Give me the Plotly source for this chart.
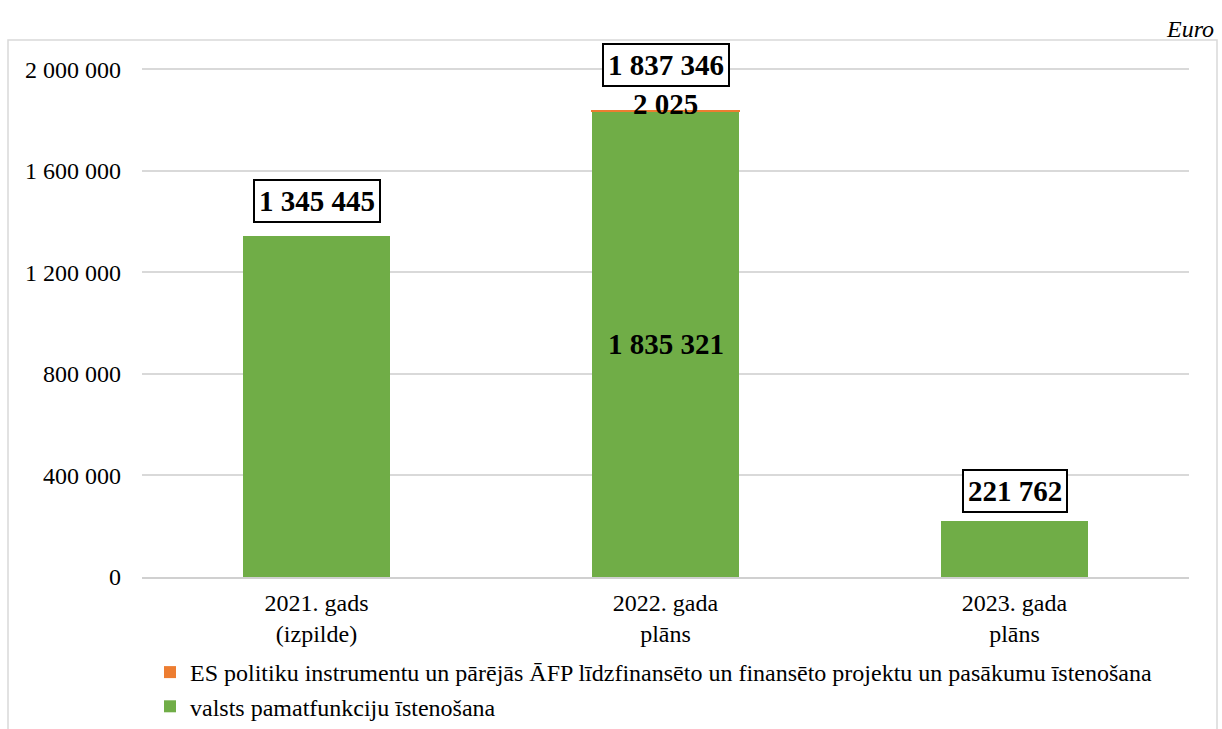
import plotly.graph_objects as go

categories = ["2021. gads<br>(izpilde)", "2022. gada<br>plāns", "2023. gada<br>plāns"]
green_name = "valsts pamatfunkciju īstenošana"
orange_name = "ES politiku instrumentu un pārējās ĀFP līdzfinansēto un finansēto projektu un pasākumu īstenošana"
green_vals = [1345445, 1835321, 221762]
orange_vals = [0, 2025, 0]
totals = [g + o for g, o in zip(green_vals, orange_vals)]
tick_vals = [0, 400000, 800000, 1200000, 1600000, 2000000]
tick_text = ["0", "400 000", "800 000", "1 200 000", "1 600 000", "2 000 000"]


def fmt(v):
    return f"{v:,}".replace(",", " ")


FONT = "Liberation Serif, Times New Roman, serif"
L, R, T, B = 142, 33, 44, 152
PW, PH = 1222 - L - R, 729 - T - B

fig = go.Figure()
fig.add_trace(go.Bar(
    x=categories, y=green_vals, name=green_name,
    marker=dict(color="#70ad47", line=dict(width=0)),
    width=0.42,
))
fig.add_trace(go.Bar(
    x=categories, y=orange_vals, name=orange_name,
    marker=dict(
        color="#ed7d31",
        line=dict(width=1.5, color=["rgba(0,0,0,0)" if v == 0 else "#ed7d31" for v in orange_vals]),
    ),
    width=0.42,
))

# total labels in boxes
box_shifts = [35, 46, 30]
for c, t, s in zip(categories, totals, box_shifts):
    fig.add_annotation(
        x=c, y=t, yshift=s, text=f"<b>{fmt(t)}</b>", showarrow=False,
        font=dict(family=FONT, size=29, color="black"),
        bordercolor="black", borderwidth=2, bgcolor="white", borderpad=4,
    )

# inner segment labels for 2022
fig.add_annotation(
    x=categories[1], y=green_vals[1] / 2, text=f"<b>{fmt(green_vals[1])}</b>",
    showarrow=False, font=dict(family=FONT, size=29, color="black"),
)
fig.add_annotation(
    x=categories[1], y=totals[1], yshift=7, text=f"<b>{fmt(orange_vals[1])}</b>",
    showarrow=False, font=dict(family=FONT, size=29, color="black"),
)

# Euro unit label
fig.add_annotation(
    xref="paper", yref="paper", x=(1216 - L) / PW, y=(577 - 29) / PH,
    xanchor="right", yanchor="middle",
    text="<i>Euro</i>", showarrow=False,
    font=dict(family=FONT, size=24, color="black"),
)

# outer chart border
fig.add_shape(
    type="rect", xref="paper", yref="paper",
    x0=(8 - L) / PW, x1=(1217 - L) / PW,
    y0=(577 - 760) / PH, y1=(577 - 40) / PH,
    line=dict(color="#d9d9d9", width=1.5), fillcolor="rgba(0,0,0,0)", layer="below",
)

fig.update_layout(
    width=1222, height=729,
    margin=dict(l=L, r=R, t=T, b=B, autoexpand=False),
    barmode="stack",
    paper_bgcolor="white", plot_bgcolor="white",
    font=dict(family=FONT, size=24, color="black"),
    showlegend=True,
    legend=dict(
        orientation="v", traceorder="reversed",
        x=(150 - L) / PW, xanchor="left", y=(577 - 650) / PH, yanchor="top",
        font=dict(family=FONT, size=24, color="black"),
        itemwidth=30, tracegroupgap=0, bgcolor="rgba(0,0,0,0)",
    ),
    xaxis=dict(
        showgrid=False, showline=True, linecolor="#d0d0d0", linewidth=1.5,
        ticks="", ticklabelstandoff=3,
        tickfont=dict(family=FONT, size=24, color="black"),
    ),
    yaxis=dict(
        range=[0, 2100000], tickvals=tick_vals, ticktext=tick_text,
        showgrid=True, gridcolor="#d9d9d9", gridwidth=1.5,
        zeroline=False, showline=False, ticks="",
        ticklabelstandoff=20,
        tickfont=dict(family=FONT, size=24, color="black"),
    ),
)

fig.write_html(
    "out.html",
    config={"displayModeBar": False},
    post_script="document.body.style.margin='0px';",
)
